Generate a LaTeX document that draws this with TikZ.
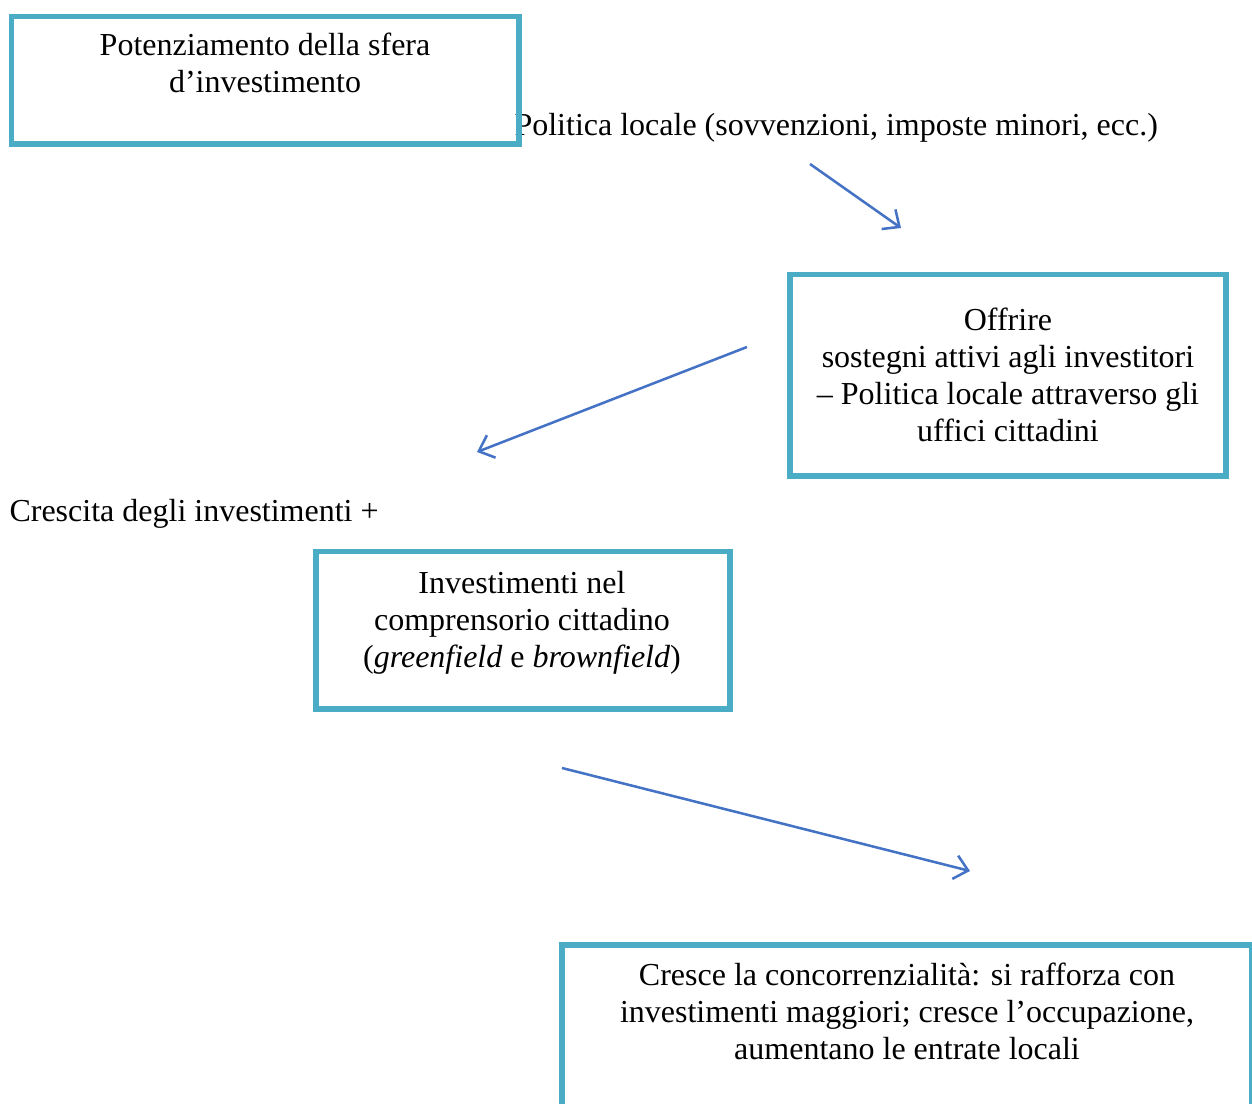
\documentclass[tikz,border=0pt]{standalone}
\usepackage{fontspec}
\setmainfont{Liberation Serif}
\usetikzlibrary{positioning, arrows.meta}
\definecolor{boxblue}{HTML}{4BACC6}
\definecolor{arrblue}{HTML}{4472C4}

\begin{document}
\begin{tikzpicture}[x=0.375pt, y=-0.375pt,
  box/.style={draw=boxblue, line width=1.9pt, inner sep=0pt},
  txt/.style={font=\fontsize{12}{13.9}\selectfont, align=center, inner sep=0pt, anchor=base},
  arr/.style={-{Straight Barb[length=5pt, width=9pt]}, draw=arrblue, line width=0.95pt}]
  \clip (0,0) rectangle (1252,1104);
  % texts outside the boxes
  \node[txt, anchor=base west] (pol) at (514,136) {Politica locale (sovvenzioni, imposte minori, ecc.)};
  \node[txt, anchor=base west] (cre) at (9,522) {Crescita degli investimenti +};
  % boxes (base = last line)
  \node[box, minimum width=190.3pt, minimum height=47.8pt] (pot) at (265.25,80.25) {};
  \node[box, minimum width=163.5pt, minimum height=75.4pt] (off) at (1008,375.5) {};
  \node[box, minimum width=155.25pt, minimum height=58.9pt] (inv) at (523,630.5) {};
  \node[box, minimum width=258.75pt, minimum height=75pt] (con) at (907,1045) {};
  \node[txt] (pott) at (265,93) {Potenziamento della sfera\\d'investimento};
  \node[txt] (offt) at (1008,442) {Offrire\\sostegni attivi agli investitori\\– Politica locale attraverso gli\\uffici cittadini};
  \node[txt] (invt) at (522,668) {Investimenti nel\\comprensorio cittadino\\(\textit{greenfield} e \textit{brownfield})};
  \node[txt] (cont) at (907,1060) {Cresce la concorrenzialità: si rafforza con\\investimenti maggiori; cresce l'occupazione,\\aumentano le entrate locali};
  % arrows
  \coordinate (a1s) at (810,164); \coordinate (a1e) at (901,228);
  \coordinate (a2s) at (747,347); \coordinate (a2e) at (477,452);
  \coordinate (a3s) at (562,768); \coordinate (a3e) at (970,871);
  \draw[arr] (a1s) -- (a1e);
  \draw[arr] (a2s) -- (a2e);
  \draw[arr] (a3s) -- (a3e);
\end{tikzpicture}
\end{document}
